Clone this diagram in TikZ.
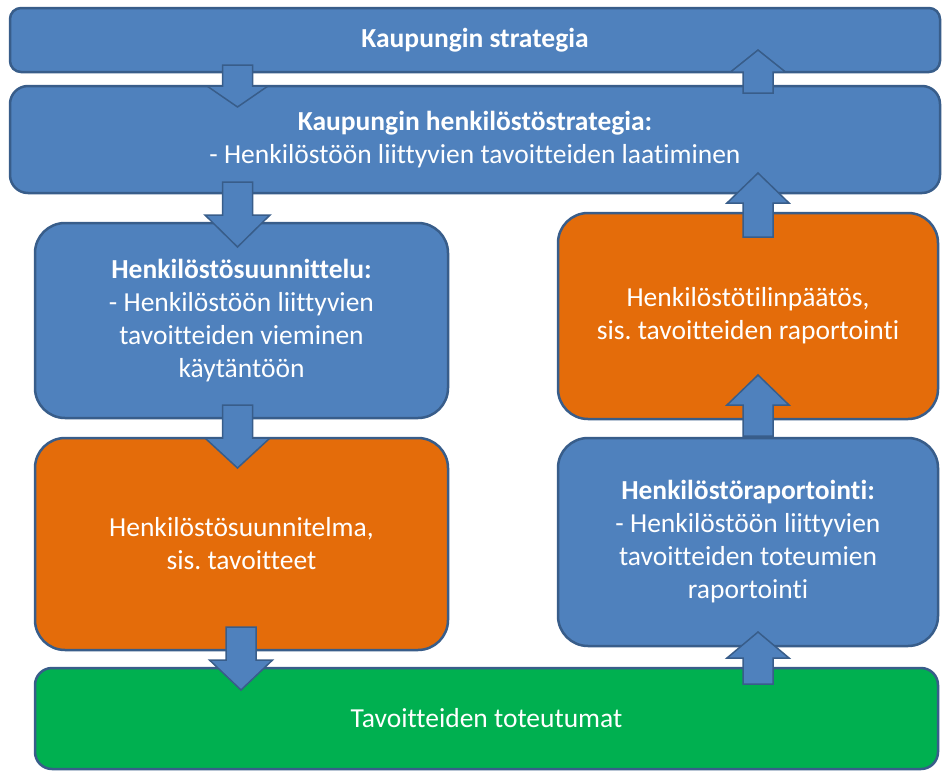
\documentclass[tikz,border=0pt]{standalone}
\usepackage{fontspec}
\setmainfont{Carlito}[Ligatures={NoCommon}]
\frenchspacing
\definecolor{bfill}{HTML}{4F81BD}
\definecolor{bdraw}{HTML}{385D8A}
\definecolor{ofill}{HTML}{E46C0A}
\definecolor{gfill}{HTML}{00B050}
\newcommand{\dnarr}[5]{%
  \draw[blockarr] (#1-15,#2) -- (#1+15,#2) -- (#1+15,#3) -- (#1+#5,#3) -- (#1,#4) -- (#1-#5,#3) -- (#1-15,#3) -- cycle;}
\begin{document}
\begin{tikzpicture}[x=1pt,y=-1pt,
  box/.style={rounded corners=#1, draw=bdraw, line width=2.5pt, text=white,
    align=center, inner sep=0pt, font=\fontsize{27.5}{33}\selectfont},
  blockarr/.style={fill=bfill, draw=bdraw, line width=1.5pt, line join=miter}]
\useasboundingbox (0,0) rectangle (942,771);
\fill[white] (0,0) rectangle (942,771);
% boxes
\node[box=11, fill=bfill, minimum width=930pt, minimum height=64pt] (s1) at (475,40)
  {\bfseries Kaupungin strategia};
\node[box=18, fill=bfill, minimum width=930pt, minimum height=107pt] (s2) at (475,139.5)
  {\bfseries Kaupungin henkilöstöstrategia:\\- Henkilöstöön liittyvien tavoitteiden laatiminen};
\node[box=30, fill=bfill, minimum width=413pt, minimum height=195pt] (hs) at (241.5,320.5)
  {\bfseries Henkilöstösuunnittelu:\\- Henkilöstöön liittyvien\\tavoitteiden vieminen\\käytäntöön};
\node[box=30, fill=ofill, minimum width=413pt, minimum height=212pt] (hsm) at (241.5,544)
  {Henkilöstösuunnitelma,\\sis. tavoitteet};
\node[box=17, fill=gfill, minimum width=903pt, minimum height=101pt] (tt) at (486.5,718.5)
  {Tavoitteiden toteutumat};
\node[box=30, fill=bfill, minimum width=380pt, minimum height=208pt] (hr) at (748,542)
  {\bfseries Henkilöstöraportointi:\\- Henkilöstöön liittyvien\\tavoitteiden toteumien\\raportointi};
\node[box=30, fill=ofill, minimum width=380pt, minimum height=206pt] (ht) at (748,316)
  {Henkilöstötilinpäätös,\\sis. tavoitteiden raportointi};
% block arrows (down, left column)
\dnarr{237.5}{65}{86}{107}{30.5}   % s1 -> s2
\dnarr{237.5}{182}{215}{247}{32.5} % s2 -> hs
\dnarr{237.5}{405}{438}{468}{32.5} % hs -> hsm
\dnarr{241}{627}{660}{690}{31.5}   % hsm -> tt
% block arrows (up, right column)
\dnarr{758}{684}{658}{632}{31}     % tt -> hr
\dnarr{758}{436}{405}{375}{31}     % hr -> ht
\dnarr{758}{237}{203}{173}{31}     % ht -> s2
\dnarr{758}{93}{72}{50}{27.5}      % s2 -> s1
\end{tikzpicture}
\end{document}
